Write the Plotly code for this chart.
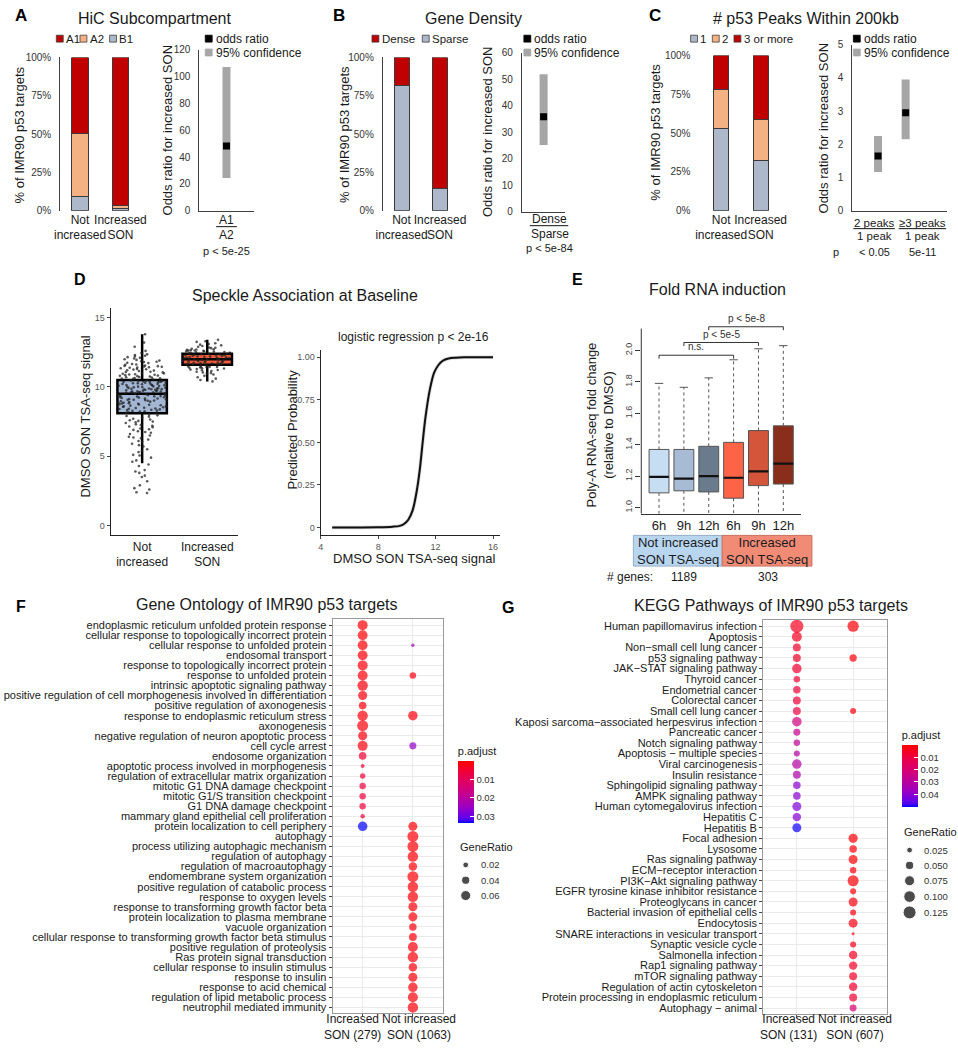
import plotly.graph_objects as go

W, H = 958, 1050
FONT = "Liberation Sans, Arial, sans-serif"
TXT = "#1a1a1a"


def xdom(a, b):
    return [a / W, b / W]


def ydom(top, bottom):
    return [1 - bottom / H, 1 - top / H]


def PX(p):
    return p / W


def PY(p):
    return 1 - p / H


# ======================= DATA =======================
groups = ["Not increased", "Increased SON"]
group_ticks = ["Not<br>increased", "Increased<br>SON"]
pct_ticks = [0, 25, 50, 75, 100]

# A - HiC subcompartment (% of targets)
hic_B1 = [9.4, 1.5]
hic_A2 = [40.7, 2.3]
hic_A1 = [49.9, 96.2]
hic_or_cat = ["A1 vs A2"]
hic_or = [48.2]
hic_ci_low = [24.5]
hic_ci_high = [107.0]
hic_num, hic_den, hic_p = "A1", "A2", "p < 5e-25"

# B - gene density
dens_sparse = [81.8, 14.8]
dens_dense = [18.2, 85.2]
dens_or_cat = ["Dense vs Sparse"]
dens_or = [35.8]
dens_ci_low = [25.2]
dens_ci_high = [51.8]
dens_num, dens_den, dens_p = "Dense", "Sparse", "p < 5e-84"

# C - number of p53 peaks within 200kb
peaks_1 = [52.7, 32.5]
peaks_2 = [25.4, 26.6]
peaks_3 = [21.9, 40.9]
peaks_or_cat = ["2 vs 1", "3+ vs 1"]
peaks_or = [1.65, 2.95]
peaks_ci_low = [1.17, 2.15]
peaks_ci_high = [2.25, 3.95]
peaks_num = ["2 peaks", "\u22653 peaks"]
peaks_den = ["1 peak", "1 peak"]
peaks_p = ["< 0.05", "5e-11"]

# D - SON TSA-seq signal (individual genes, sampled) and box statistics
son_not_increased = [
    10.6, 11.2, 10.9, 11.8, 12.1, 10.7, 11.4, 11.0, 12.3, 10.8, 11.6, 11.1, 10.55, 11.9, 11.3,
    12.0, 10.65, 11.5, 10.95, 11.75, 12.2, 10.75, 11.45, 11.05, 10.85, 11.25, 11.65, 12.15, 10.58,
    11.35, 11.85, 10.68, 11.15, 11.55, 12.05, 10.78, 10.88, 11.42, 11.95, 10.98, 11.72, 12.25,
    11.08, 10.62, 11.52, 11.28, 10.72, 11.82, 11.18, 10.92, 12.6, 12.9, 13.2, 13.8, 12.45, 11.62,
    10.82, 11.38, 12.35, 11.48,
    9.58, 10.12, 9.84, 10.37, 9.66, 10.02, 10.44, 9.73, 9.91, 10.21, 9.52, 10.29, 9.79, 10.07,
    9.62, 10.41, 9.88, 10.16, 9.69, 10.33, 9.97, 10.24, 9.55, 10.47, 9.82, 10.09, 9.76, 10.38,
    9.94, 10.19, 9.61, 10.27, 9.86, 10.04, 9.71, 10.43, 9.99, 10.14, 9.57, 10.31, 9.8, 10.22,
    9.67, 10.36, 9.93, 10.11, 9.74, 10.46, 9.89, 10.26, 9.64, 10.01, 9.83, 10.39, 9.6,
    8.15, 9.32, 8.62, 9.05, 8.41, 9.44, 8.83, 8.22, 9.17, 8.56, 9.28, 8.94, 8.33, 9.41, 8.71,
    9.11, 8.48, 8.88, 9.36, 8.27, 9.02, 8.65, 9.23, 8.38, 9.47, 8.79, 8.13, 9.13, 8.53, 8.97,
    9.39, 8.45, 8.86, 9.21, 8.19, 8.68, 9.08, 8.35, 9.31, 8.76, 8.58, 9.26, 8.91, 8.24, 9.45,
    8.73, 9.0, 8.43, 9.16, 8.81, 8.3, 9.34, 8.6, 9.07, 8.5,
    8.0, 7.8, 7.6, 7.9, 7.4, 7.7, 7.2, 7.95, 7.5, 7.3, 7.85, 7.1, 6.9, 7.65, 6.7, 7.45, 6.5,
    7.0, 6.8, 7.25, 6.3, 6.6, 7.55, 6.1, 6.4, 7.15, 5.9, 6.2, 6.95, 5.7, 5.5, 6.05, 5.3, 6.75,
    5.1, 5.8, 4.9, 6.35, 4.6, 5.4, 4.3, 5.05, 4.0, 3.8, 4.7, 3.5, 3.2, 4.4, 2.9, 3.6, 2.6,
    2.35, 2.4, 2.7, 3.9,
]
son_increased = [
    11.62, 12.05, 12.38, 11.78, 12.21, 11.95, 12.47, 11.69, 12.12, 11.85, 12.33, 11.58, 12.0,
    12.27, 11.74, 12.42, 11.9, 12.16, 11.66, 12.36, 11.82, 12.09, 11.98, 12.25, 11.55, 12.44,
    11.71, 12.02, 12.31, 11.88, 12.19, 11.64, 12.4, 11.93, 12.13, 11.76, 12.29, 11.6, 12.07,
    11.84, 12.35, 11.97, 12.23, 11.68, 12.46, 11.81, 12.1, 11.92, 12.17, 11.57,
    12.55, 12.7, 12.6, 12.85, 12.52, 12.95, 12.65, 13.1, 12.75, 13.3, 12.58, 13.0, 12.8, 13.4,
    12.62, 12.9, 13.15, 12.68, 12.5, 13.25, 12.72, 12.57, 12.83, 13.05, 12.63,
    11.5, 11.35, 11.45, 11.2, 11.4, 11.0, 11.3, 10.8, 11.48, 11.15, 10.6, 11.25, 10.95, 11.42,
    10.5, 11.1, 11.38, 10.7, 11.05, 11.46, 10.4, 11.33, 10.9, 11.22, 11.44,
]
son_q1 = [8.1, 11.6]
son_median = [9.5, 12.0]
son_q3 = [10.5, 12.4]
son_lower = [4.5, 10.4]
son_upper = [13.8, 13.4]

logit_x = [4.8, 6.0, 8.0, 9.0, 9.5, 9.8, 10.1, 10.4, 10.7, 10.9, 11.1, 11.3, 11.6, 11.9,
           12.2, 12.5, 12.9, 13.4, 14.0, 16.0]
logit_p = [0.0, 0.0, 0.001, 0.004, 0.009, 0.02, 0.045, 0.10, 0.22, 0.34, 0.5, 0.65, 0.81,
           0.91, 0.955, 0.98, 0.993, 0.998, 1.0, 1.0]

# E - fold RNA induction box statistics
fold_labels = ["6h", "9h", "12h", "6h", "9h", "12h"]
fold_q1 = [1.094, 1.107, 1.100, 1.060, 1.140, 1.150]
fold_med = [1.195, 1.185, 1.200, 1.190, 1.230, 1.280]
fold_q3 = [1.370, 1.370, 1.390, 1.415, 1.490, 1.520]
fold_hi = [1.790, 1.765, 1.825, 1.940, 2.010, 2.030]
fold_lo = [0.85, 0.86, 0.85, 0.80, 0.84, 0.83]
fold_groups = ["Not increased<br>SON TSA-seq", "Increased<br>SON TSA-seq"]
genes_n = ["1189", "303"]
comparisons = [(0, 3, "n.s.", 1.969), (1, 4, "p < 5e-5", 2.05), (2, 5, "p < 5e-8", 2.15)]

# F - Gene Ontology
go_cols = ["Increased<br>SON (279)", "Not increased<br>SON (1063)"]
go_terms = [
    "endoplasmic reticulum unfolded protein response",
    "cellular response to topologically incorrect protein",
    "cellular response to unfolded protein",
    "endosomal transport",
    "response to topologically incorrect protein",
    "response to unfolded protein",
    "intrinsic apoptotic signaling pathway",
    "positive regulation of cell morphogenesis involved in differentiation",
    "positive regulation of axonogenesis",
    "response to endoplasmic reticulum stress",
    "axonogenesis",
    "negative regulation of neuron apoptotic process",
    "cell cycle arrest",
    "endosome organization",
    "apoptotic process involved in morphogenesis",
    "regulation of extracellular matrix organization",
    "mitotic G1 DNA damage checkpoint",
    "mitotic G1/S transition checkpoint",
    "G1 DNA damage checkpoint",
    "mammary gland epithelial cell proliferation",
    "protein localization to cell periphery",
    "autophagy",
    "process utilizing autophagic mechanism",
    "regulation of autophagy",
    "regulation of macroautophagy",
    "endomembrane system organization",
    "positive regulation of catabolic process",
    "response to oxygen levels",
    "response to transforming growth factor beta",
    "protein localization to plasma membrane",
    "vacuole organization",
    "cellular response to transforming growth factor beta stimulus",
    "positive regulation of proteolysis",
    "Ras protein signal transduction",
    "cellular response to insulin stimulus",
    "response to insulin",
    "response to acid chemical",
    "regulation of lipid metabolic process",
    "neutrophil mediated immunity",
]
go_inc_ratio = [0.060, 0.058, 0.058, 0.058, 0.060, 0.060, 0.065, 0.050, 0.035, 0.065, 0.072,
                0.050, 0.060, 0.035, 0.010, 0.018, 0.025, 0.025, 0.025, 0.012, 0.055,
                None, None, None, None, None, None, None, None, None, None, None, None, None,
                None, None, None, None, None]
go_inc_padj = [0.0006, 0.0006, 0.0006, 0.0008, 0.0008, 0.0008, 0.001, 0.001, 0.0012, 0.001,
               0.001, 0.0012, 0.0015, 0.005, 0.006, 0.006, 0.006, 0.006, 0.006, 0.006, 0.0335,
               None, None, None, None, None, None, None, None, None, None, None, None, None,
               None, None, None, None, None]
go_ni_ratio = [None, None, 0.007, None, None, 0.025, None, None, None, 0.054, None, None, 0.030,
               None, None, None, None, None, None, None,
               0.049, 0.072, 0.072, 0.066, 0.043, 0.072, 0.066, 0.066, 0.049, 0.049, 0.034, 0.038,
               0.060, 0.066, 0.043, 0.049, 0.054, 0.060, 0.066]
go_ni_padj = [None, None, 0.0235, None, None, 0.0017, None, None, None, 0.001, None, None, 0.026,
              None, None, None, None, None, None, None,
              0.0006, 0.0005, 0.0005, 0.0006, 0.0008, 0.0005, 0.0006, 0.0006, 0.0008, 0.0009,
              0.001, 0.001, 0.0008, 0.0008, 0.001, 0.001, 0.001, 0.001, 0.0008]
go_ratio_keys = [0.02, 0.04, 0.06]
go_padj_ticks = [0.01, 0.02, 0.03]
go_padj_max = 0.0335

# G - KEGG
M = "\u2212"
kegg_cols = ["Increased<br>SON (131)", "Not increased<br>SON (607)"]
kegg_terms = [
    "Human papillomavirus infection", "Apoptosis", "Non" + M + "small cell lung cancer",
    "p53 signaling pathway", "JAK" + M + "STAT signaling pathway", "Thyroid cancer",
    "Endometrial cancer", "Colorectal cancer", "Small cell lung cancer",
    "Kaposi sarcoma" + M + "associated herpesvirus infection", "Pancreatic cancer",
    "Notch signaling pathway", "Apoptosis " + M + " multiple species", "Viral carcinogenesis",
    "Insulin resistance", "Sphingolipid signaling pathway", "AMPK signaling pathway",
    "Human cytomegalovirus infection", "Hepatitis C", "Hepatitis B", "Focal adhesion",
    "Lysosome", "Ras signaling pathway", "ECM" + M + "receptor interaction",
    "PI3K" + M + "Akt signaling pathway", "EGFR tyrosine kinase inhibitor resistance",
    "Proteoglycans in cancer", "Bacterial invasion of epithelial cells", "Endocytosis",
    "SNARE interactions in vesicular transport", "Synaptic vesicle cycle",
    "Salmonella infection", "Rap1 signaling pathway", "mTOR signaling pathway",
    "Regulation of actin cytoskeleton", "Protein processing in endoplasmic reticulum",
    "Autophagy " + M + " animal",
]
kegg_inc_ratio = [0.125, 0.074, 0.047, 0.047, 0.067, 0.031, 0.042, 0.047, 0.047, 0.067, 0.036,
                  0.031, 0.027, 0.067, 0.047, 0.042, 0.042, 0.060, 0.053, 0.060,
                  None, None, None, None, None, None, None, None, None, None, None, None, None,
                  None, None, None, None]
kegg_inc_padj = [0.005, 0.005, 0.006, 0.006, 0.0075, 0.0085, 0.009, 0.009, 0.01, 0.0226, 0.025,
                 0.0276, 0.030, 0.031, 0.0316, 0.040, 0.040, 0.0417, 0.0407, 0.0497,
                 None, None, None, None, None, None, None, None, None, None, None, None, None,
                 None, None, None, None]
kegg_ni_ratio = [0.095, None, None, 0.040, None, None, None, None, 0.027, None, None, None, None,
                 None, None, None, None, None, None, None,
                 0.064, 0.042, 0.060, 0.031, 0.090, 0.027, 0.060, 0.027, 0.060, 0.007, 0.027,
                 0.053, 0.053, 0.047, 0.053, 0.047, 0.036]
kegg_ni_padj = [0.001, None, None, 0.001, None, None, None, None, 0.0015, None, None, None, None,
                None, None, None, None, None, None, None,
                0.001, 0.0015, 0.001, 0.0015, 0.001, 0.002, 0.002, 0.0025, 0.0025, 0.003, 0.004,
                0.005, 0.006, 0.0065, 0.0075, 0.008, 0.019]
kegg_ratio_keys = [0.025, 0.05, 0.075, 0.1, 0.125]
kegg_padj_ticks = [0.01, 0.02, 0.03, 0.04]
kegg_padj_max = 0.0502

# ======================= STYLE =======================
C_A1 = "#C00000"
C_A2 = "#F4B183"
C_B1 = "#ADB9CA"
C_CI = "#A6A6A6"
BAR_LINE = "#3a3a3a"
PADJ_SCALE = [[0.0, "#0000FF"], [0.05, "#4A00F2"], [0.1, "#6800E7"], [0.25, "#9A00C3"],
              [0.5, "#CA0089"], [0.75, "#E80050"], [1.0, "#FF0000"]]

fig = go.Figure()
axes = {}
annotations = []
shapes = []


def xa(n):
    return "x" if n == 1 else f"x{n}"


def ya(n):
    return "y" if n == 1 else f"y{n}"


def set_axes(n, xcfg, ycfg):
    kx = "xaxis" if n == 1 else f"xaxis{n}"
    ky = "yaxis" if n == 1 else f"yaxis{n}"
    base = dict(showgrid=False, zeroline=False, fixedrange=True)
    xcfg = {**base, "anchor": ya(n), **xcfg}
    ycfg = {**base, "anchor": xa(n), **ycfg}
    axes[kx] = xcfg
    axes[ky] = ycfg


def ann(text, x, y, size=12, xanchor="center", yanchor="middle", angle=0, color=TXT):
    annotations.append(dict(
        text=text, x=PX(x), y=PY(y), xref="paper", yref="paper",
        xanchor=xanchor, yanchor=yanchor, showarrow=False, textangle=angle,
        font=dict(size=size, color=color, family=FONT)))


def rect(x0, y0, x1, y1, fill, line="#404040", lw=0.8):
    shapes.append(dict(type="rect", xref="paper", yref="paper", x0=PX(x0), x1=PX(x1),
                       y0=PY(y1), y1=PY(y0), fillcolor=fill, line=dict(color=line, width=lw)))


def hline(x0, x1, y, color="#111", w=1):
    shapes.append(dict(type="line", xref="paper", yref="paper", x0=PX(x0), x1=PX(x1),
                       y0=PY(y), y1=PY(y), line=dict(color=color, width=w)))


# ---------- stacked bar panels (A, B, C) ----------
def stacked_panel(n, series, colors, xd, yd, xr, width, showyline):
    for vals, col in zip(series, colors):
        fig.add_trace(go.Bar(x=groups, y=vals, width=width, xaxis=xa(n), yaxis=ya(n),
                             marker=dict(color=col, line=dict(color=BAR_LINE, width=1)),
                             hoverinfo="skip"))
    set_axes(n,
             dict(domain=xd, type="category", categoryorder="array", categoryarray=groups,
                  range=xr, tickmode="array", tickvals=groups, ticktext=group_ticks, ticks="",
                  tickangle=0, tickfont=dict(size=12, color=TXT), showline=False),
             dict(domain=yd, range=[0, 100], tickmode="array", tickvals=pct_ticks,
                  ticktext=[f"{v}%" for v in pct_ticks],
                  tickfont=dict(size=10, color="#333"), showline=showyline,
                  linecolor="#404040", linewidth=1, ticks="", ticklabelstandoff=6))


def odds_panel(n, cats, orv, lo, hi, xd, yd, xr, yr, ytv):
    xs, ys = [], []
    for c, l, h in zip(cats, lo, hi):
        xs += [c, c, None]
        ys += [l, h, None]
    fig.add_trace(go.Scatter(x=xs, y=ys, mode="lines", line=dict(color=C_CI, width=8),
                             xaxis=xa(n), yaxis=ya(n), hoverinfo="skip"))
    fig.add_trace(go.Scatter(x=cats, y=orv, mode="markers", xaxis=xa(n), yaxis=ya(n),
                             marker=dict(symbol="square", size=7, color="black"),
                             hoverinfo="skip"))
    set_axes(n,
             dict(domain=xd, type="category", categoryorder="array", categoryarray=cats,
                  range=xr, showticklabels=False, ticks="", showline=True,
                  linecolor="#404040", linewidth=1),
             dict(domain=yd, range=yr, tickmode="array", tickvals=ytv,
                  tickfont=dict(size=10, color="#333"),
                  showline=True, linecolor="#404040", linewidth=1, ticks="",
                  ticklabelstandoff=6))


def legend_row(items, y=33):
    for x0, col, label in items:
        rect(x0, y - 3.5, x0 + 7, y + 3.5, col)
        ann(label, x0 + 8, y, size=11.5, xanchor="left")


def odds_legend(x0):
    rect(x0, 29.5, x0 + 7, 36.5, "black", line="black")
    ann("odds ratio", x0 + 8.5, 33, size=12, xanchor="left")
    rect(x0, 43.5, x0 + 7, 50.5, C_CI, line=C_CI)
    ann("95% confidence", x0 + 8.5, 47, size=12, xanchor="left")


# A
stacked_panel(1, [hic_B1, hic_A2, hic_A1], [C_B1, C_A2, C_A1], xdom(54, 135), ydom(52, 207),
              [-0.49, 1.49], 0.41, True)
odds_panel(2, hic_or_cat, hic_or, hic_ci_low, hic_ci_high, xdom(195, 250), ydom(44, 207),
           [-0.5, 0.5], [0, 120], [0, 20, 40, 60, 80, 100, 120])
ann("<b>A</b>", 14, 10, size=17, color="black")
ann("HiC Subcompartment", 150, 13, size=16)
legend_row([(50, C_A1, "A1"), (74, C_A2, "A2"), (104, C_B1, "B1")])
odds_legend(201)
ann("% of IMR90 p53 targets", 13, 130, size=13, angle=-90)
ann("Odds ratio for increased SON", 163, 125, size=13, angle=-90)
ann(hic_num, 223, 216, size=12)
hline(212, 233, 223)
ann(hic_den, 223, 231, size=12)
ann(hic_p, 223, 248, size=11)

# B
stacked_panel(3, [dens_sparse, dens_dense], [C_B1, C_A1], xdom(381, 460), ydom(52, 207),
              [-0.487, 1.54], 0.39, True)
odds_panel(4, dens_or_cat, dens_or, dens_ci_low, dens_ci_high, xdom(522, 566), ydom(47, 208),
           [-0.5, 0.5], [0, 60], [0, 10, 20, 30, 40, 50, 60])
ann("<b>B</b>", 337, 10, size=17, color="black")
ann("Gene Density", 473, 13, size=16)
legend_row([(370, C_A1, "Dense"), (421, C_B1, "Sparse")])
odds_legend(524)
ann("% of IMR90 p53 targets", 342, 130, size=13, angle=-90)
ann("Odds ratio for increased SON", 487, 127, size=13, angle=-90)
ann(dens_num, 550, 215, size=12)
hline(530, 569, 222)
ann(dens_den, 550, 230, size=12)
ann(dens_p, 550, 245, size=11)

# C
stacked_panel(5, [peaks_1, peaks_2, peaks_3], [C_B1, C_A2, C_A1], xdom(700, 790), ydom(50, 207),
              [-0.6, 1.65], 0.375, False)
odds_panel(6, peaks_or_cat, peaks_or, peaks_ci_low, peaks_ci_high, xdom(857, 953),
           ydom(39, 207), [-0.93, 2.5], [0, 5], [0, 1, 2, 3, 4, 5])
ann("<b>C</b>", 657, 10, size=17, color="black")
ann("# p53 Peaks Within 200kb", 810, 13, size=16)
legend_row([(693, C_B1, "1"), (715, C_A2, "2"), (737, C_A1, "3 or more")])
odds_legend(858)
ann("% of IMR90 p53 targets", 658, 128, size=13, angle=-90)
ann("Odds ratio for increased SON", 828, 123, size=13, angle=-90)
for cx, (x0, x1), num, den, pv in zip([879, 928], [(858, 900), (904, 952)], peaks_num,
                                      peaks_den, peaks_p):
    ann(num, cx, 219, size=11.5)
    hline(x0, x1, 225)
    ann(den, cx, 232, size=11.5)
    ann(pv, cx, 249, size=11)
ann("p", 840, 249, size=11)

# ---------- D ----------
d_fills = ["#A3B7D5", "#EE5A3C"]
for i, g in enumerate(groups):
    fig.add_trace(go.Box(x=[g], q1=[son_q1[i]], median=[son_median[i]], q3=[son_q3[i]],
                         lowerfence=[son_lower[i]], upperfence=[son_upper[i]], width=0.76,
                         fillcolor=d_fills[i], line=dict(color="black", width=2.5),
                         boxpoints=False, whiskerwidth=0, xaxis="x7", yaxis="y7",
                         hoverinfo="skip"))
for g, vals in zip(groups, [son_not_increased, son_increased]):
    fig.add_trace(go.Box(x=[g] * len(vals), y=vals, boxpoints="all", jitter=1.0, pointpos=0,
                         width=0.76, fillcolor="rgba(0,0,0,0)",
                         line=dict(color="rgba(0,0,0,0)", width=0),
                         marker=dict(size=2.6, color="rgba(35,35,35,0.75)"),
                         xaxis="x7", yaxis="y7", hoverinfo="skip"))
set_axes(7,
         dict(domain=xdom(105, 234), type="category", categoryorder="array",
              categoryarray=groups, range=[-0.485, 1.47], tickmode="array", tickvals=groups,
              ticktext=group_ticks, ticks="", tickangle=0, tickfont=dict(size=12, color=TXT),
              showline=True, linecolor="#222", linewidth=1),
         dict(domain=ydom(305, 535), range=[-0.71, 15.71], tickmode="array",
              tickvals=[0, 5, 10, 15],
              ticks="outside", ticklen=3, tickcolor="#444",
              tickfont=dict(size=9, color="#555"), showline=True, linecolor="#222",
              linewidth=1))

fig.add_trace(go.Scatter(x=logit_x, y=logit_p, mode="lines",
                         line=dict(color="rgba(170,170,170,0.5)", width=3.5, shape="spline"),
                         xaxis="x8", yaxis="y8", hoverinfo="skip"))
fig.add_trace(go.Scatter(x=logit_x, y=logit_p, mode="lines",
                         line=dict(color="#111", width=2, shape="spline"),
                         xaxis="x8", yaxis="y8", hoverinfo="skip"))
set_axes(8,
         dict(domain=xdom(318, 500), range=[4, 16.5], tickmode="array",
              tickvals=[4, 8, 12, 16],
              ticks="outside", ticklen=3, tickcolor="#444",
              tickfont=dict(size=9, color="#555"), showline=True, linecolor="#222",
              linewidth=1),
         dict(domain=ydom(348, 535), range=[-0.047, 1.041], tickmode="array",
              tickvals=[0, 0.25, 0.5, 0.75, 1.0],
              ticktext=["0", "0.25", "0.50", "0.75", "1.00"], ticks="outside", ticklen=3,
              tickcolor="#444", tickfont=dict(size=9, color="#555"), showline=True,
              linecolor="#222", linewidth=1))
ann("<b>D</b>", 74, 276, size=16, color="black")
ann("Speckle Association at Baseline", 302, 293, size=16)
ann("DMSO SON TSA-seq signal", 80, 415, size=13, angle=-90)
ann("logistic regression p < 2e-16", 412, 335, size=12)
ann("Predicted Probability", 289, 428, size=13, angle=-90)
ann("DMSO SON TSA-seq signal", 413, 558, size=13)

# ---------- E ----------
e_fills = ["#C6DDF2", "#A7BCD4", "#6B7B8E", "#FF6346", "#D5553A", "#8A2E1C"]
positions = list(range(1, len(fold_labels) + 1))
for i, p in enumerate(positions):
    fig.add_trace(go.Box(x=[p], q1=[fold_q1[i]], median=[fold_med[i]], q3=[fold_q3[i]],
                         lowerfence=[fold_q1[i]], upperfence=[fold_q3[i]], width=0.8,
                         fillcolor=e_fills[i], line=dict(color="#555", width=1),
                         boxpoints=False, whiskerwidth=0, xaxis="x9", yaxis="y9",
                         hoverinfo="skip"))
wx, wy = [], []
for i, p in enumerate(positions):
    wx += [p, p, None, p, p, None]
    wy += [fold_q3[i], fold_hi[i], None, fold_q1[i], fold_lo[i], None]
fig.add_trace(go.Scatter(x=wx, y=wy, mode="lines", line=dict(color="#555", width=1, dash="dot"),
                         xaxis="x9", yaxis="y9", hoverinfo="skip"))
fig.add_trace(go.Scatter(x=positions, y=fold_hi, mode="markers", xaxis="x9", yaxis="y9",
                         marker=dict(symbol="line-ew", size=6,
                                     line=dict(color="#555", width=1)), hoverinfo="skip"))
fig.add_trace(go.Scatter(x=positions, y=fold_med, mode="markers", xaxis="x9", yaxis="y9",
                         marker=dict(symbol="line-ew", size=14,
                                     line=dict(color="#111", width=2.2)), hoverinfo="skip"))
bx, by = [], []
for a, b, label, lvl in comparisons:
    pa, pb = positions[a], positions[b]
    bx += [pa, pa, pb, pb, None]
    by += [lvl - 0.022, lvl, lvl, lvl - 0.022, None]
    annotations.append(dict(text=label, x=(pa + pb) / 2, y=lvl + 0.006, xref="x9", yref="y9",
                            xanchor="center", yanchor="bottom", showarrow=False,
                            font=dict(size=10, color="#333", family=FONT)))
fig.add_trace(go.Scatter(x=bx, y=by, mode="lines", line=dict(color="#333", width=1),
                         xaxis="x9", yaxis="y9", hoverinfo="skip"))
set_axes(9,
         dict(domain=xdom(643, 805), range=[0.286, 6.714], tickmode="array",
              tickvals=positions, ticktext=fold_labels, ticks="", tickangle=0,
              tickfont=dict(size=13, color=TXT), showline=True, linecolor="#333",
              linewidth=1),
         dict(domain=ydom(310, 513), range=[0.962, 2.239], tickmode="array",
              tickvals=[1.0, 1.2, 1.4, 1.6, 1.8, 2.0],
              ticktext=["1.0", "1.2", "1.4", "1.6", "1.8", "2.0"], tickangle=-90,
              ticks="outside", ticklen=5, tickcolor="#333",
              tickfont=dict(size=9, color="#444"), showline=False))
shapes.append(dict(type="line", xref="paper", yref="paper", x0=PX(643), x1=PX(643),
                   y0=PY(513), y1=PY(326), line=dict(color="#333", width=1)))
ann("<b>E</b>", 578, 276, size=16, color="black")
ann("Fold RNA induction", 720, 287, size=16)
ann("Poly-A RNA-seq fold change<br>(relative to DMSO)", 601, 423, size=13, angle=-90)
rect(635, 535, 725, 566, "#B9D6F1", line="#93ADC8", lw=1)
rect(725, 535, 816, 566, "#F28B76", line="#C9705F", lw=1)
ann(fold_groups[0], 680, 550.5, size=13)
ann(fold_groups[1], 770.5, 550.5, size=13)
ann("# genes:", 632, 577, size=12)
ann(genes_n[0], 686, 577, size=12)
ann(genes_n[1], 771, 577, size=12)


# ---------- F & G dot plots ----------
def dot_panel(n, terms, cols, col_data, coloraxis, sref, xd, yd, label_x):
    for col, (ratios, padj) in zip(cols, col_data):
        yy = [t for t, r in zip(terms, ratios) if r is not None]
        ss = [r for r in ratios if r is not None]
        cc = [-p for p in padj if p is not None]
        fig.add_trace(go.Scatter(x=[col] * len(yy), y=yy, mode="markers",
                                 xaxis=xa(n), yaxis=ya(n), hoverinfo="skip",
                                 marker=dict(size=ss, sizemode="area", sizeref=sref,
                                             color=cc, coloraxis=coloraxis,
                                             line=dict(width=0))))
    set_axes(n,
             dict(domain=xd, type="category", categoryorder="array", categoryarray=cols,
                  range=[-0.6, 1.6], tickmode="array", tickvals=cols, showticklabels=False,
                  showgrid=True, gridcolor="#EBEBEB", gridwidth=1, showline=True,
                  mirror=True, linecolor="#9A9A9A", linewidth=1, ticks="outside",
                  ticklen=3, tickcolor="#444"),
             dict(domain=yd, type="category", categoryorder="array", categoryarray=terms,
                  range=[len(terms) - 0.4, -0.6], tickmode="array", tickvals=terms,
                  ticktext=terms, showgrid=True, gridcolor="#EBEBEB", gridwidth=1,
                  showline=True, mirror=True, linecolor="#9A9A9A", linewidth=1,
                  ticks="outside", ticklen=3, tickcolor="#444",
                  tickfont=dict(size=11, color=TXT)))
    # column labels (two-line, placed under the panel like the reference)
    for col, lx in zip(cols, label_x):
        ann(col, lx, 1032, size=12)


SREF_F = 0.0012
SREF_G = 0.00148
dot_panel(10, go_terms, go_cols, [(go_inc_ratio, go_inc_padj), (go_ni_ratio, go_ni_padj)],
          "coloraxis", SREF_F, xdom(330, 442), ydom(619.6, 1018.1), [350, 418])
dot_panel(11, kegg_terms, kegg_cols,
          [(kegg_inc_ratio, kegg_inc_padj), (kegg_ni_ratio, kegg_ni_padj)],
          "coloraxis2", SREF_G, xdom(766.5, 892), ydom(620.3, 1019.1), [792, 860])
ann("<b>F</b>", 14, 607, size=16, color="black")
ann("Gene Ontology of IMR90 p53 targets", 263, 605, size=16)
ann("<b>G</b>", 508, 608, size=16, color="black")
ann("KEGG Pathways of IMR90 p53 targets", 775, 606, size=16)


def colorbar(x0, ycenter, ticks):
    return dict(x=PX(x0), xanchor="left", y=PY(ycenter), yanchor="middle", len=79,
                lenmode="pixels", thickness=16, thicknessmode="pixels", outlinewidth=0,
                xpad=0, ypad=0, tickvals=[-t for t in ticks], ticktext=[f"{t:g}" for t in ticks],
                ticks="inside", ticklen=4, tickcolor="white",
                tickfont=dict(size=9.5, color="#333", family=FONT),
                title=dict(text="p.adjust", side="top", font=dict(size=11, color=TXT,
                                                                  family=FONT)))


# size legends (GeneRatio) drawn on a page-sized pixel overlay axis
set_axes(12, dict(domain=[0, 1], range=[0, W], visible=False),
         dict(domain=[0, 1], range=[H, 0], visible=False))
go_key_y = [868, 883.5, 899]
kegg_key_y = [853, 868.5, 884, 900, 916]
fig.add_trace(go.Scatter(x=[465] * len(go_ratio_keys), y=go_key_y, mode="markers",
                         xaxis="x12", yaxis="y12", hoverinfo="skip",
                         marker=dict(size=go_ratio_keys, sizemode="area", sizeref=SREF_F,
                                     color="black")))
fig.add_trace(go.Scatter(x=[915] * len(kegg_ratio_keys), y=kegg_key_y, mode="markers",
                         xaxis="x12", yaxis="y12", hoverinfo="skip",
                         marker=dict(size=kegg_ratio_keys, sizemode="area", sizeref=SREF_G,
                                     color="black")))
ann("GeneRatio", 457, 850, size=11, xanchor="left")
for v, yy in zip(go_ratio_keys, go_key_y):
    ann(f"{v:g}", 478, yy, size=9.5, xanchor="left", color="#333")
ann("GeneRatio", 907, 835, size=11, xanchor="left")
for v, yy in zip(kegg_ratio_keys, kegg_key_y):
    ann(f"{v:.3f}", 928, yy, size=9.5, xanchor="left", color="#333")

fig.update_layout(
    width=W, height=H, margin=dict(l=0, r=0, t=0, b=0),
    paper_bgcolor="white", plot_bgcolor="rgba(0,0,0,0)",
    showlegend=False, barmode="stack", boxmode="overlay",
    font=dict(family=FONT, color=TXT),
    coloraxis=dict(cmin=-go_padj_max, cmax=0, colorscale=PADJ_SCALE,
                   colorbar=colorbar(457, 785.5, go_padj_ticks)),
    coloraxis2=dict(cmin=-kegg_padj_max, cmax=0, colorscale=PADJ_SCALE,
                    colorbar=colorbar(907, 769.5, kegg_padj_ticks)),
    annotations=annotations, shapes=shapes,
    **axes,
)

# remove the browser's default 8px body margin so the figure sits at the page origin,
# and hide the hover mode bar
fig.write_html(
    "out.html",
    config={"displayModeBar": False},
    post_script="document.body.style.margin='0px';"
                "document.documentElement.style.overflow='hidden';",
)
